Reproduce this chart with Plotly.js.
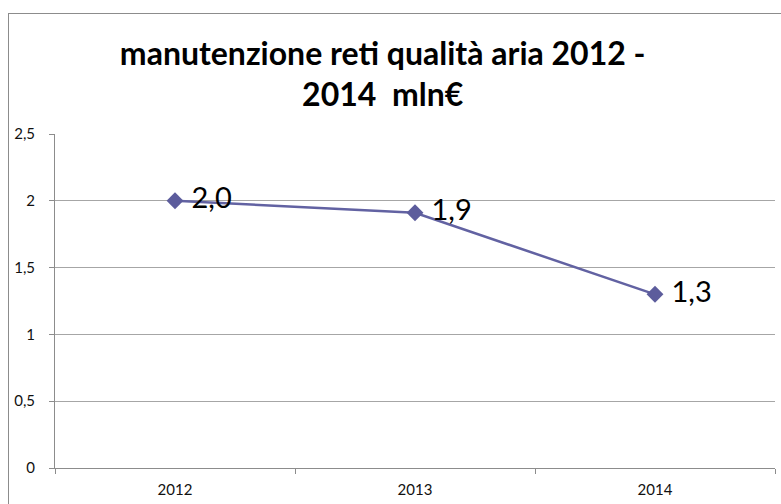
<!DOCTYPE html>
<html>
<head>
<meta charset="utf-8">
<script src="https://cdn.plot.ly/plotly-3.0.1.min.js"></script>
<style>
  html, body { margin: 0; padding: 0; background: #fff; }
  #wrap { position: relative; width: 781px; height: 504px; overflow: hidden; }
  #chart { position: absolute; left: 0; top: 0; width: 781px; height: 504px; }
  #frame { position: absolute; left: 8px; top: 13px; width: 800px; height: 520px;
           border: 1px solid #8c8c8c; pointer-events: none; box-sizing: border-box; }
</style>
</head>
<body>
<div id="wrap">
  <div id="chart"></div>
  <div id="frame"></div>
</div>
<script>
const years = ["2012", "2013", "2014"];
const values = [2.0, 1.91, 1.30];
const labels = ["2,0", "1,9", "1,3"];
const yTicks = [0, 0.5, 1, 1.5, 2, 2.5];
const yTickText = ["0", "0,5", "1", "1,5", "2", "2,5"];

const trace = {
  type: "scatter",
  mode: "lines+markers+text",
  x: years,
  y: values,
  text: labels,
  texttemplate: " %{text}",
  textposition: "middle right",
  textfont: { family: "Lato, 'Open Sans', sans-serif", size: 29, color: "#000" },
  line: { color: "#6262a2", width: 2.5 },
  marker: { symbol: "diamond", size: 13, color: "#5c5c9c" },
  cliponaxis: false,
  hoverinfo: "skip"
};

const layout = {
  width: 781,
  height: 504,
  paper_bgcolor: "#fff",
  plot_bgcolor: "#fff",
  margin: { l: 55, r: 6, t: 134, b: 36 },
  showlegend: false,
  separators: ",.",
  title: {
    text: "<b>manutenzione reti qualità aria 2012 -<br>2014  mln€</b>",
    font: { family: "Lato, 'Open Sans', sans-serif", size: 32, color: "#000" },
    x: 0.49,
    xanchor: "center",
    xref: "container",
    yref: "container",
    y: 0.872,
    yanchor: "top"
  },
  xaxis: {
    type: "category",
    range: [-0.5, 2.5],
    showgrid: false,
    showline: true,
    linecolor: "#8c8c8c",
    linewidth: 1,
    ticks: "outside",
    tickson: "boundaries",
    ticklen: 5,
    tickcolor: "#8c8c8c",
    tickfont: { family: "Lato, 'Open Sans', sans-serif", size: 15, color: "#111" },
    ticklabelstandoff: 8,
    zeroline: false,
    fixedrange: true
  },
  yaxis: {
    range: [0, 2.5],
    tickvals: yTicks,
    ticktext: yTickText,
    showgrid: true,
    gridcolor: "#a6a6a6",
    gridwidth: 1,
    showline: true,
    linecolor: "#8c8c8c",
    linewidth: 1,
    ticks: "outside",
    ticklen: 5,
    tickcolor: "#8c8c8c",
    tickfont: { family: "Lato, 'Open Sans', sans-serif", size: 15, color: "#111" },
    ticklabelstandoff: 11,
    zeroline: false,
    fixedrange: true
  }
};

Plotly.newPlot("chart", [trace], layout, { displayModeBar: false, staticPlot: true });
</script>
</body>
</html>
